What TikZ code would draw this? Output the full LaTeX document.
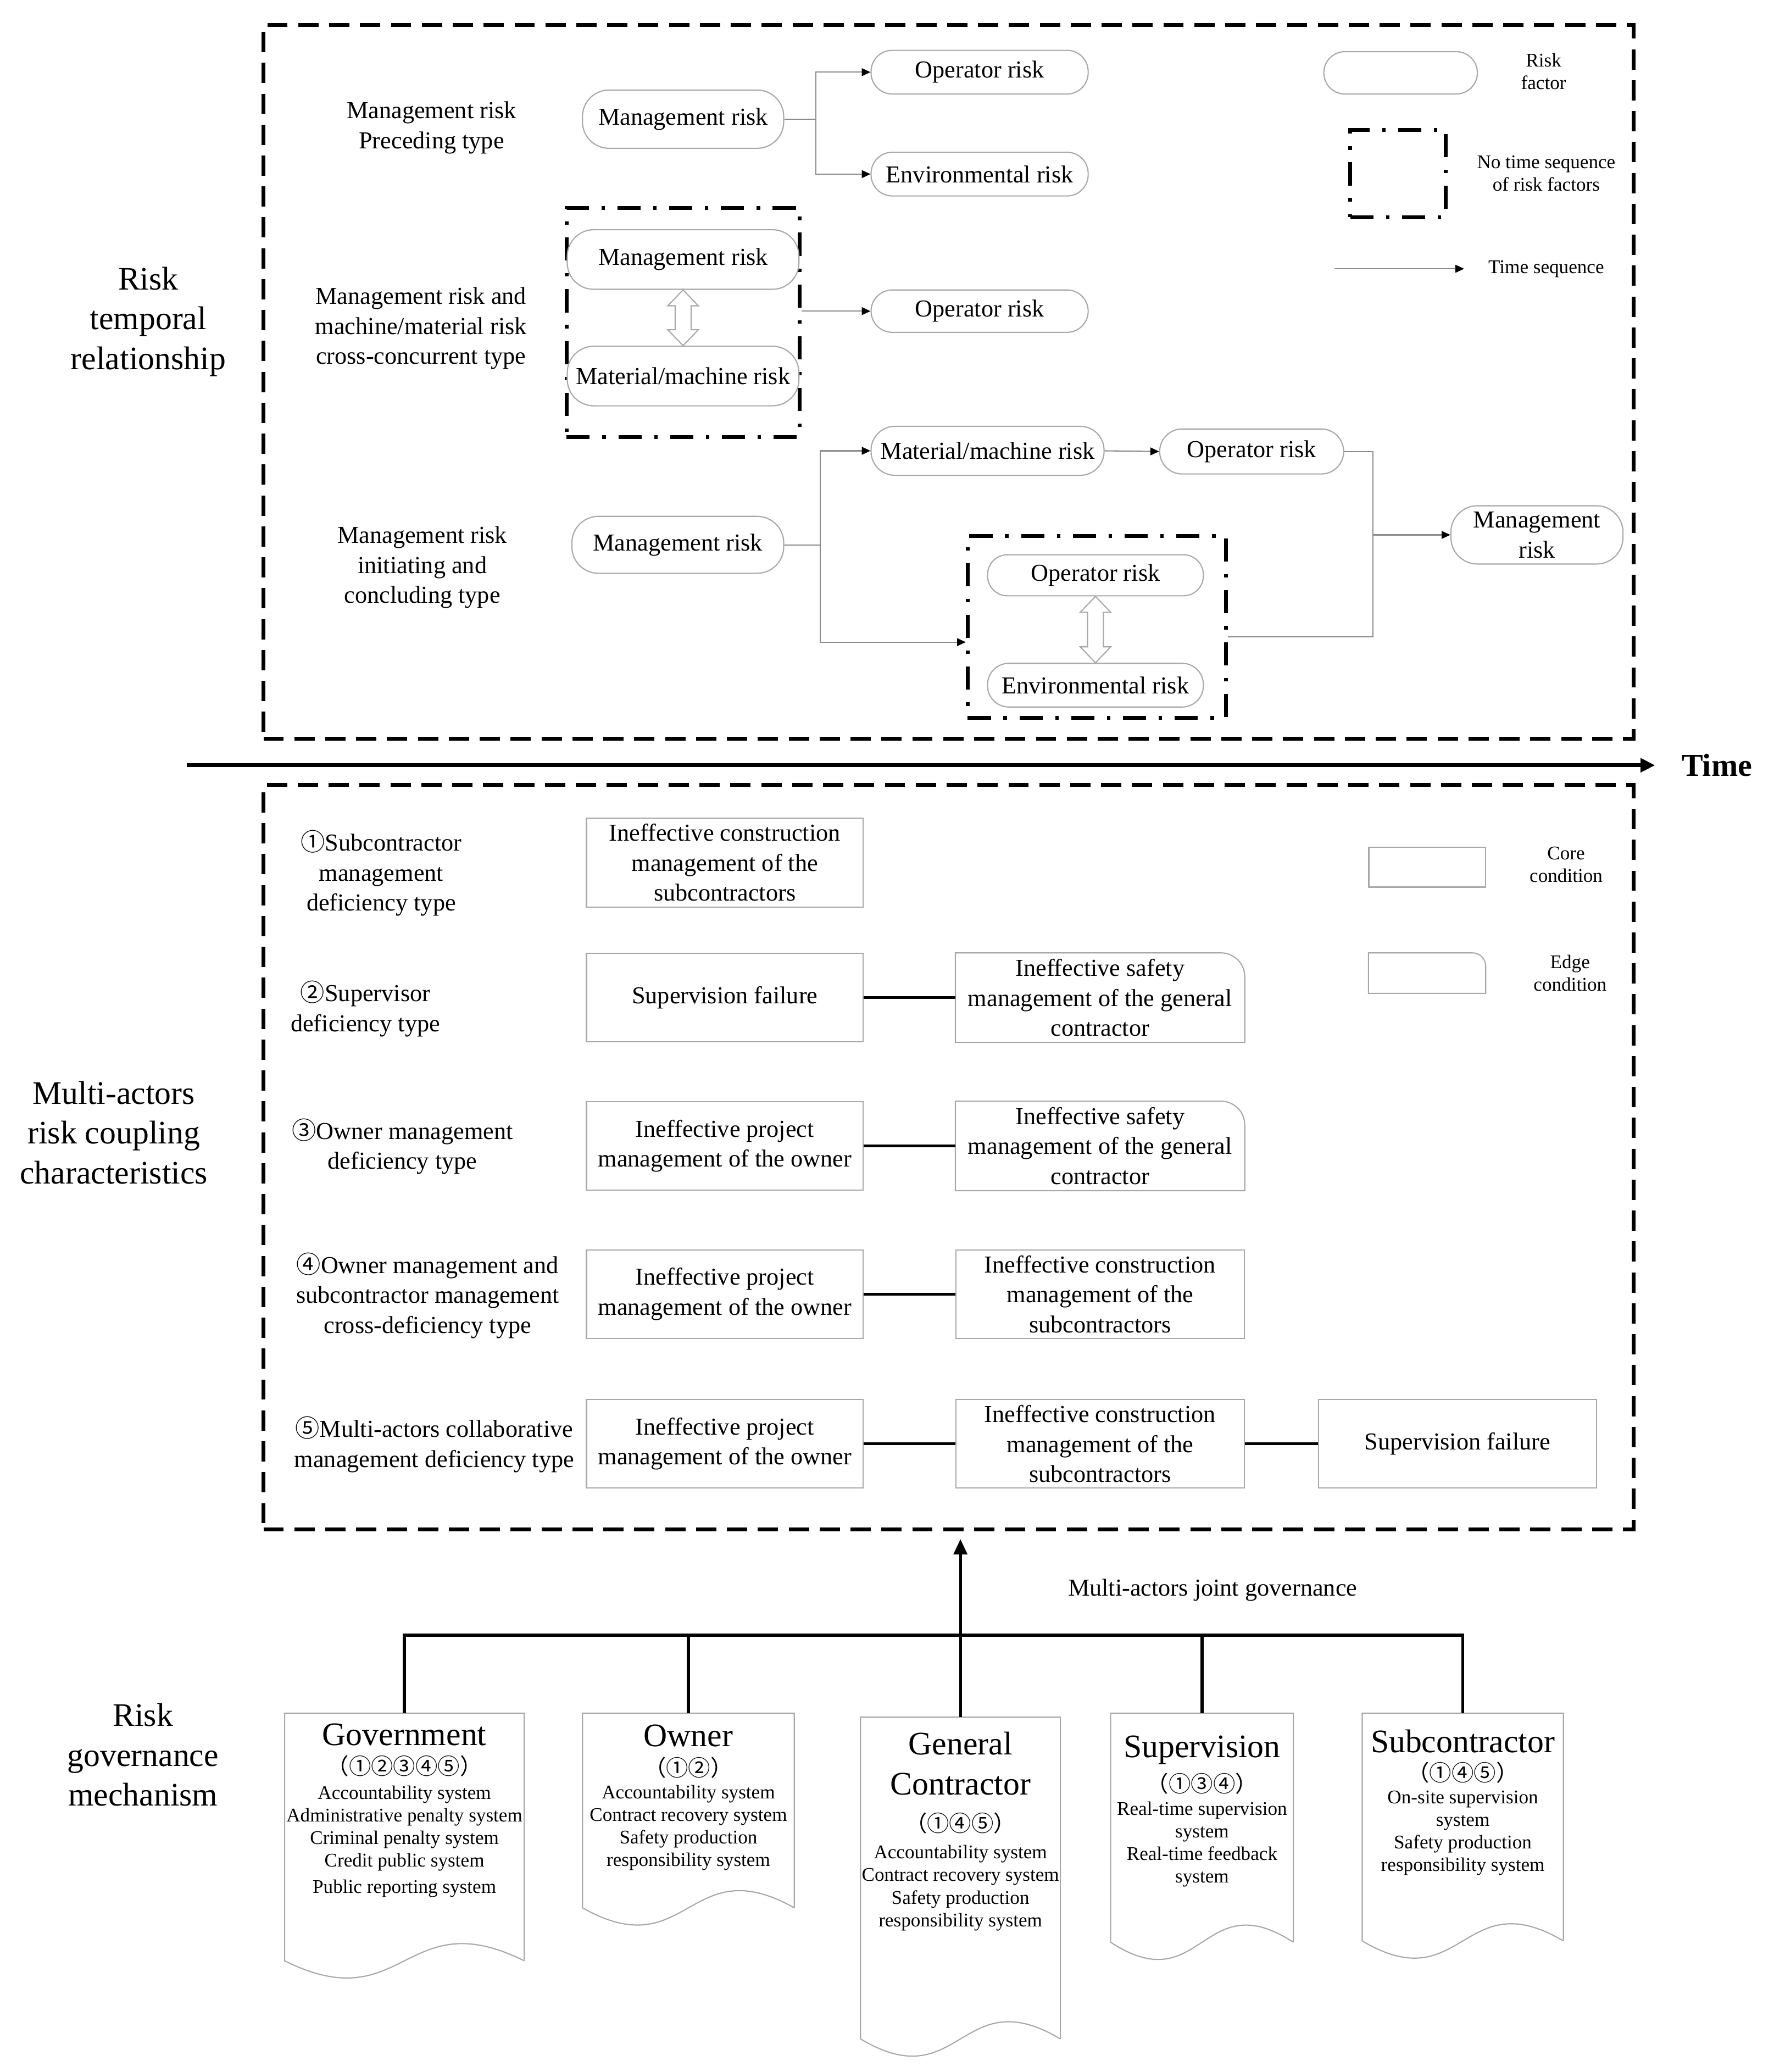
\documentclass[tikz,border=0pt]{standalone}
\usepackage{fontspec}
\setmainfont{Liberation Serif}
\newfontfamily\cjk{Noto Sans CJK SC}
\usetikzlibrary{arrows.meta,calc}
\newlength\dpx
\setlength\dpx{0.02409cm}
\definecolor{bd}{gray}{0.66}
\definecolor{ln}{gray}{0.55}
\newcommand\cn[1]{{\cjk #1}}
\tikzset{
  base/.style={font=\fontsize{12.6}{15.5}\selectfont, align=center, inner sep=1pt},
  risk/.style={base, draw=bd, line width=0.6pt, rounded corners=#1, fill=white},
  risk/.default=20\dpx,
  core/.style={base, draw=bd, line width=0.6pt, minimum height=67\dpx},
  edgen/.style={base, minimum height=67\dpx},
  lbl/.style={base},
  big/.style={font=\fontsize{17}{20.6}\selectfont, align=center, inner sep=0pt},
  small/.style={font=\fontsize{10}{11.7}\selectfont, align=center, inner sep=0pt},
  dbox/.style={draw, line width=2pt, dash pattern=on 10.5pt off 5.5pt, inner sep=0pt},
  ddbox/.style={draw, line width=2pt, dash pattern=on 12pt off 6.5pt on 1.8pt off 6.5pt, inner sep=0pt},
  tarrow/.style={draw=ln, line width=0.6pt, -{Triangle[length=4.5pt,width=4pt,color=black]}},
  gline/.style={draw=ln, line width=0.6pt},
  cline/.style={line width=1.5pt},
  govline/.style={line width=1.5pt},
  hollow/.style={draw=bd, line width=0.6pt, fill=white},
  docn/.style={inner sep=0pt, outer sep=0pt},
  doctitle/.style={font=\fontsize{17}{20.6}\selectfont, align=center, inner sep=0pt},
  docnum/.style={font=\cjk\fontsize{11.5}{13}\selectfont, inner sep=0pt},
  docbody/.style={font=\fontsize{10}{11.7}\selectfont, align=center, inner sep=0pt},
}
\newcommand\edgeframe[2]{\draw[draw=bd, line width=0.6pt] (#1.south west) -- (#1.north west) -- ([xshift=-#2]#1.north east) arc[start angle=90, end angle=0, radius=#2] -- (#1.south east) -- cycle;}
\newcommand\docframe[1]{\draw[draw=bd, line width=0.6pt, fill=white] (#1.south east) -- (#1.north east) -- (#1.north west) -- (#1.south west) .. controls ($(#1.south)+(0,45)$) and ($(#1.south)+(0,-45)$) .. (#1.south east);}
\newcommand\hollowarrow[2]{\draw[hollow] (#1.south) -- ++(11.5,12) -- ++(-5.5,0) -- ($(#2.north)+(6,-12)$) -- ++(5.5,0) -- (#2.north) -- ++(-11.5,-12) -- ++(5.5,0) -- ($(#1.south)+(-6,12)$) -- ++(-5.5,0) -- cycle;}
\begin{document}
\begin{tikzpicture}[x=0.02409cm,y=-0.02409cm]
\path[fill=white,use as bounding box] (0,0) rectangle (1340,1565);

% ---------------- top section ----------------
\node[dbox, minimum width=1035\dpx, minimum height=539\dpx] (tbox) at (716.5,288.5) {};
\node[big] (cat1) at (112,243) {Risk\\temporal\\relationship};

% legend
\node[risk=16\dpx, minimum width=116\dpx, minimum height=32\dpx] (lgr) at (1058,55) {};
\node[small] (lgrt) at (1166,54) {Risk\\factor};
\node[ddbox, minimum width=72\dpx, minimum height=66\dpx] (lgd) at (1056,131) {};
\node[small] (lgdt) at (1168,131) {No time sequence\\of risk factors};
\coordinate (la1) at (1008,203);
\coordinate (la2) at (1106,203);
\draw[tarrow] (la1) -- (la2);
\node[small] (lgat) at (1168,203) {Time sequence};

% row 1
\node[lbl] (r1) at (326,96.5) {Management risk\\Preceding type};
\node[risk, minimum width=152\dpx, minimum height=44\dpx] (m1) at (516,90) {Management risk};
\node[risk=16\dpx, minimum width=164\dpx, minimum height=33\dpx] (o1) at (740,54.5) {Operator risk};
\node[risk=16\dpx, minimum width=164\dpx, minimum height=33\dpx] (e1) at (740,131.5) {Environmental risk};
\draw[tarrow] (m1.east) -- ++(24,0) |- (o1.west);
\draw[tarrow] (m1.east) -- ++(24,0) |- (e1.west);

% row 2
\node[lbl] (r2) at (318,248) {Management risk and\\machine/material risk\\cross-concurrent type};
\node[ddbox, minimum width=176\dpx, minimum height=173\dpx] (g2) at (516,243.5) {};
\node[risk, minimum width=175\dpx, minimum height=45\dpx] (m2) at (516,196) {Management risk};
\node[risk, minimum width=175\dpx, minimum height=45\dpx] (mm2) at (516,284) {Material/machine risk};
\hollowarrow{m2}{mm2}
\node[risk=16\dpx, minimum width=164\dpx, minimum height=32\dpx] (o2) at (740,235) {Operator risk};
\draw[tarrow] (g2.east |- o2.west) -- (o2.west);

% row 3
\node[lbl] (r3) at (319,428.5) {Management risk\\initiating and\\concluding type};
\node[risk, minimum width=160\dpx, minimum height=43\dpx] (m3) at (512,411.5) {Management risk};
\node[risk=18\dpx, minimum width=176\dpx, minimum height=37\dpx] (mm3) at (746,340.5) {Material/machine risk};
\node[risk=17\dpx, minimum width=139\dpx, minimum height=34\dpx] (op3) at (945.5,341) {Operator risk};
\node[ddbox, minimum width=195\dpx, minimum height=137\dpx] (g3) at (828.5,473.5) {};
\node[risk=15\dpx, minimum width=163\dpx, minimum height=31\dpx] (op3in) at (827.5,434.5) {Operator risk};
\node[risk=16\dpx, minimum width=163\dpx, minimum height=33\dpx] (env3) at (827.5,517.5) {Environmental risk};
\hollowarrow{op3in}{env3}
\node[risk, minimum width=130\dpx, minimum height=44\dpx] (mr3) at (1161,404) {Management\\risk};
\coordinate (g3in) at (g3.west |- 0,485);
\coordinate (g3out) at (g3.east |- 0,481);
\coordinate (jn) at (1037,404);
\draw[tarrow] (m3.east) -- ++(27,0) |- (mm3.west);
\draw[tarrow] (m3.east) -- ++(27,0) |- (g3in);
\draw[tarrow] (mm3.east) -- (op3.west);
\draw[gline] (op3.east) -| (jn);
\draw[gline] (g3out) -| (jn);
\draw[tarrow] (jn) -- (mr3.west);

% ---------------- time axis ----------------
\node[font=\bfseries\fontsize{16.5}{18}\selectfont, inner sep=0pt] (time) at (1297,578) {Time};
\coordinate (t0) at (141,578);
\draw[line width=2pt, -{Triangle[length=7.5pt,width=7pt]}] (t0) -- ([xshift=-20\dpx]time.west);

% ---------------- middle section ----------------
\node[dbox, minimum width=1035\dpx, minimum height=562\dpx] (mbox) at (716.5,874) {};
\node[big] (cat2) at (86,855.5) {Multi-actors\\risk coupling\\characteristics};

\node[core, minimum width=88\dpx, minimum height=30\dpx] (lgc) at (1078,655) {};
\node[small] (lgct) at (1183,653) {Core\\condition};
\node[edgen, minimum width=88\dpx, minimum height=30\dpx] (lge) at (1078,735) {};
\edgeframe{lge}{10\dpx}
\node[small] (lget) at (1186,735) {Edge\\condition};

% row 1
\node[lbl] (l1) at (288,659.5) {\cn{①}Subcontractor\\management\\deficiency type};
\node[core, minimum width=209\dpx] (a1) at (547.5,651.5) {Ineffective construction\\management of the\\subcontractors};
% row 2
\node[lbl] (l2) at (276,762) {\cn{②}Supervisor\\deficiency type};
\node[core, minimum width=209\dpx] (a2) at (547.5,753.5) {Supervision failure};
\node[edgen, minimum width=218\dpx] (b2) at (831,753.5) {Ineffective safety\\management of the general\\contractor};
\edgeframe{b2}{18\dpx}
\draw[cline] (a2.east) -- (b2.west);
% row 3
\node[lbl] (l3) at (304,866) {\cn{③}Owner management\\deficiency type};
\node[core, minimum width=209\dpx] (a3) at (547.5,865.5) {Ineffective project\\management of the owner};
\node[edgen, minimum width=218\dpx] (b3) at (831,865.5) {Ineffective safety\\management of the general\\contractor};
\edgeframe{b3}{18\dpx}
\draw[cline] (a3.east) -- (b3.west);
% row 4
\node[lbl] (l4) at (323,978.5) {\cn{④}Owner management and\\subcontractor management\\cross-deficiency type};
\node[core, minimum width=209\dpx] (a4) at (547.5,977.5) {Ineffective project\\management of the owner};
\node[core, minimum width=218\dpx] (b4) at (831,977.5) {Ineffective construction\\management of the\\subcontractors};
\draw[cline] (a4.east) -- (b4.west);
% row 5
\node[lbl] (l5) at (328,1091) {\cn{⑤}Multi-actors collaborative\\management deficiency type};
\node[core, minimum width=209\dpx] (a5) at (547.5,1090.5) {Ineffective project\\management of the owner};
\node[core, minimum width=218\dpx] (b5) at (831,1090.5) {Ineffective construction\\management of the\\subcontractors};
\node[core, minimum width=210\dpx] (c5) at (1101,1090.5) {Supervision failure};
\draw[cline] (a5.east) -- (b5.west);
\draw[cline] (b5.east) -- (c5.west);

% ---------------- bottom section ----------------
\node[big] (cat3) at (108,1325.5) {Risk\\governance\\mechanism};
\node[base, inner sep=0pt] (jg) at (916,1201) {Multi-actors joint governance};

\node[docn, minimum width=181\dpx, minimum height=187\dpx, anchor=north] (gov) at (305.5,1294) {};
\node[docn, minimum width=160\dpx, minimum height=147\dpx, anchor=north] (own) at (520,1294) {};
\node[docn, minimum width=151\dpx, minimum height=243\dpx, anchor=north] (gc) at (725.5,1297) {};
\node[docn, minimum width=138\dpx, minimum height=173\dpx, anchor=north] (sup) at (908,1294) {};
\node[docn, minimum width=152\dpx, minimum height=172\dpx, anchor=north] (sub) at (1105,1294) {};
\docframe{gov}
\docframe{own}
\docframe{gc}
\docframe{sup}
\docframe{sub}

\coordinate (bar) at (725.5,1235);
\draw[govline, line join=miter] (gov.north) |- (bar) -| (sub.north);
\draw[govline] (own.north) -- (own.north |- bar);
\draw[govline] (sup.north) -- (sup.north |- bar);
\draw[govline, -{Triangle[length=8pt,width=7pt]}] (gc.north) -- ($(gc.north |- mbox.south)+(0,6)$);

\node[doctitle] (govt) at (305.5,1310) {Government};
\node[docnum] (govn) at (305.5,1334) {（①②③④⑤）};
\node[docbody] (govb) at (305.5,1391) {Accountability system\\Administrative penalty system\\Criminal penalty system\\Credit public system\\[2pt]Public reporting system};

\node[doctitle] (ownt) at (520,1311) {Owner};
\node[docnum] (ownn) at (520,1335) {（①②）};
\node[docbody] (ownb) at (520,1380.5) {Accountability system\\Contract recovery system\\Safety production\\responsibility system};

\node[doctitle] (gct) at (725.5,1332) {General\\Contractor};
\node[docnum] (gcn) at (725.5,1377) {（①④⑤）};
\node[docbody] (gcb) at (725.5,1426) {Accountability system\\Contract recovery system\\Safety production\\responsibility system};

\node[doctitle] (supt) at (908,1322) {Supervision};
\node[docnum] (supn) at (908,1347) {（①③④）};
\node[docbody] (supb) at (908,1393) {Real-time supervision\\system\\Real-time feedback\\system};

\node[doctitle] (subt) at (1105,1315) {Subcontractor};
\node[docnum] (subn) at (1105,1339) {（①④⑤）};
\node[docbody] (subb) at (1105,1384.5) {On-site supervision\\system\\Safety production\\responsibility system};
\end{tikzpicture}
\end{document}
